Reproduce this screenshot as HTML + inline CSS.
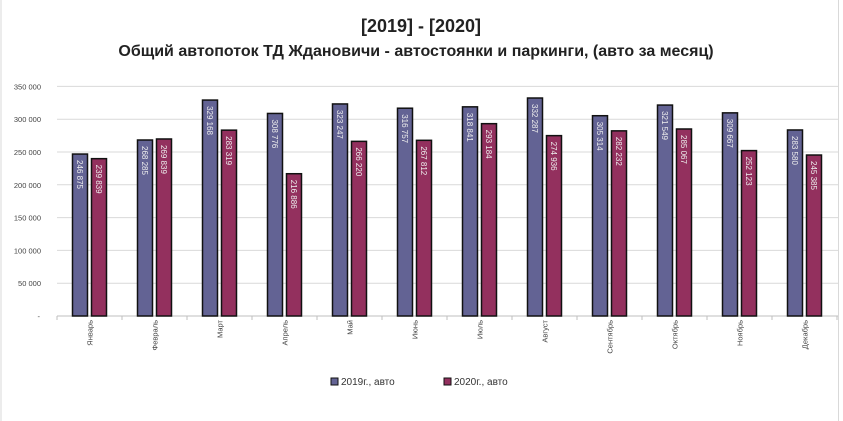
<!DOCTYPE html>
<html><head><meta charset="utf-8"><style>
body{margin:0;background:#fff;}
svg{display:block;font-family:"Liberation Sans",sans-serif;}
</style></head><body>
<svg width="843" height="421" viewBox="0 0 843 421">
<rect x="0" y="0" width="843" height="421" fill="#fff"/>
<line x1="1" y1="0" x2="1" y2="421" stroke="#d9d9d9"/>
<line x1="838.5" y1="0" x2="838.5" y2="421" stroke="#d9d9d9"/>
<text x="421" y="32" text-anchor="middle" font-size="18" font-weight="bold" fill="#222">[2019] - [2020]</text>
<text x="416" y="56" text-anchor="middle" font-size="16" font-weight="bold" fill="#222">Общий автопоток ТД Ждановичи - автостоянки и паркинги, (авто за месяц)</text>
<g id="grid" stroke="#d9d9d9" stroke-width="1"></g>
<g id="ylab" font-size="7.5" fill="#444" text-anchor="end"></g>
<g id="bars"></g>
<g id="xlab" font-size="7.5" fill="#444"></g>
<rect x="331" y="378" width="7" height="7" fill="#636394" stroke="#111"/>
<text x="341" y="385" font-size="10" fill="#333">2019г., авто</text>
<rect x="444" y="378" width="7" height="7" fill="#93305e" stroke="#111"/>
<text x="454" y="385" font-size="10" fill="#333">2020г., авто</text>
</svg>
<script>
const a=[246875,268285,329168,308776,323247,316757,318841,332287,305314,321549,309667,283580];
const b=[239839,269839,283319,216886,266220,267812,293184,274936,282232,285067,252123,245385];
const m=["Январь","Февраль","Март","Апрель","Май","Июнь","Июль","Август","Сентябрь","Октябрь","Ноябрь","Декабрь"];
const ns="http://www.w3.org/2000/svg";
function el(p,t,at,txt){const e=document.createElementNS(ns,t);for(const k in at)e.setAttribute(k,at[k]);if(txt!=null)e.textContent=txt;document.getElementById(p).appendChild(e);}
const y0=316,sc=229.6/350000,x0=57,cw=65;
for(let i=0;i<=7;i++){const y=y0-i*50000*sc;
 el("grid","line",{x1:x0,x2:838,y1:y,y2:y,stroke:i==0?"#bfbfbf":"#d9d9d9"});
 el("ylab","text",{x:i==0?40:41,y:y+3},i==0?"-":(i*50)+" 000");}
for(let i=0;i<=12;i++)el("grid","line",{x1:x0+i*cw,x2:x0+i*cw,y1:y0,y2:y0+4,stroke:"#bfbfbf"});
const f=v=>{const s=String(v);return s.slice(0,3)+" "+s.slice(3);};
for(let i=0;i<12;i++){const c=x0+(i+0.5)*cw;
 [[a[i],c-17,"#636394"],[b[i],c+2,"#93305e"]].forEach(([v,x,col])=>{const h=v*sc;
  el("bars","rect",{x:x,y:y0-h,width:15,height:h,fill:col,stroke:"#111","stroke-width":1.5});
  const tx=x+7.5-3,ty=y0-h+6;
  el("bars","text",{x:tx,y:ty,transform:`rotate(90 ${tx} ${ty})`,"font-size":8,fill:"#eee"},f(v));});
 el("xlab","text",{x:c+3,y:320,transform:`rotate(-90 ${c+3} 320)`,"text-anchor":"end"},m[i]);}
</script>
</body></html>
